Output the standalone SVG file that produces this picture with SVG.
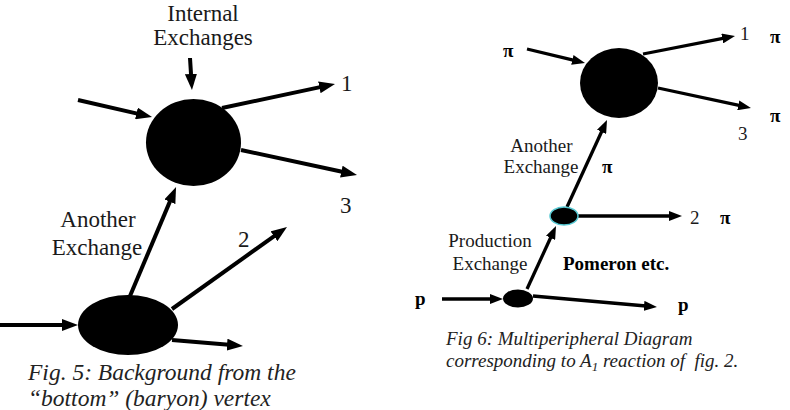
<svg xmlns="http://www.w3.org/2000/svg" width="790" height="410" viewBox="0 0 790 410">
<style>
.bg{fill:#fff}
.node{fill:#000}
.mid{fill:#000;stroke:#56c8d2;stroke-width:1.5}
.cl{stroke:#000;stroke-width:4;fill:none;marker-end:url(#ah)}
.cr{stroke:#000;stroke-width:3.3;fill:none;marker-end:url(#ahs)}
.t{fill:#1a1a1a}
.l{font-size:23px}
.s{font-size:19px}
.b{font-weight:bold;fill:#000}
.cap{font-style:italic;fill:#222}
</style>
<defs>
<marker id="ah" markerUnits="userSpaceOnUse" markerWidth="16" markerHeight="12" refX="2" refY="6" orient="auto">
<path d="M0,0 L16,6 L0,12 z" fill="#000"/>
</marker>
<marker id="ahs" markerUnits="userSpaceOnUse" markerWidth="13" markerHeight="10" refX="2" refY="5" orient="auto">
<path d="M0,0 L13,5 L0,10 z" fill="#000"/>
</marker>
</defs>
<rect class="bg" x="0" y="0" width="790" height="410"/>

<g id="connectors">
<line class="cl" x1="78" y1="100" x2="138.4" y2="113.9"/>
<line class="cl" x1="190" y1="58" x2="191.1" y2="76"/>
<line class="cl" x1="222" y1="108" x2="321.3" y2="86.9"/>
<line class="cl" x1="241" y1="150" x2="343.3" y2="172"/>
<line class="cl" x1="130" y1="296" x2="170.6" y2="199.9"/>
<line class="cl" x1="172" y1="309" x2="275.6" y2="235.1"/>
<line class="cl" x1="0" y1="325" x2="64" y2="325"/>
<line class="cl" x1="172" y1="340" x2="229" y2="344.8"/>
<line class="cr" x1="527" y1="49" x2="574.3" y2="60.4"/>
<line class="cr" x1="643" y1="54" x2="724.2" y2="38.1"/>
<line class="cr" x1="658" y1="88" x2="740.2" y2="105.7"/>
<line class="cr" x1="567" y1="207" x2="602.4" y2="130"/>
<line class="cr" x1="578" y1="216" x2="671" y2="216"/>
<line class="cr" x1="527" y1="289" x2="551.4" y2="236"/>
<line class="cr" x1="442" y1="299" x2="492" y2="299"/>
<line class="cr" x1="533" y1="296" x2="646" y2="306"/>
</g>

<g id="fig5-top-vertex"><ellipse class="node" cx="193.5" cy="142.5" rx="47.5" ry="43.5"/></g>
<g id="fig5-bottom-vertex"><ellipse class="node" cx="128" cy="325" rx="50" ry="30"/></g>
<g id="fig6-top-vertex"><ellipse class="node" cx="619" cy="83" rx="39" ry="35"/></g>
<g id="fig6-mid-vertex"><ellipse class="mid" cx="564" cy="216" rx="14" ry="9"/></g>
<g id="fig6-bottom-vertex"><ellipse class="node" cx="518" cy="298.5" rx="15" ry="9"/></g>

<g id="labels" font-family="'Liberation Serif', 'DejaVu Serif', serif">
<text class="t l" x="203" y="20.5" text-anchor="middle">Internal</text>
<text class="t l" x="203" y="45" text-anchor="middle">Exchanges</text>
<text class="t l" x="341" y="91">1</text>
<text class="t l" x="340" y="213">3</text>
<text class="t l" x="238" y="247">2</text>
<text class="t l" x="98" y="227" text-anchor="middle">Another</text>
<text class="t l" x="97" y="255" text-anchor="middle">Exchange</text>
<text class="t cap" x="28" y="380" font-size="23.5">Fig. 5: Background from the</text>
<text class="t cap" x="28" y="406" font-size="23.5">“bottom” (baryon) vertex</text>

<text class="t s b" x="503" y="57">π</text>
<text class="t s" x="740" y="40">1</text>
<text class="t s b" x="770" y="43">π</text>
<text class="t s b" x="770" y="122">π</text>
<text class="t s" x="738" y="140">3</text>
<text class="t s" x="541.5" y="152" text-anchor="middle">Another</text>
<text class="t s" x="541" y="173" text-anchor="middle">Exchange</text>
<text class="t s b" x="602" y="173">π</text>
<text class="t s" x="690" y="224">2</text>
<text class="t s b" x="720" y="224">π</text>
<text class="t s" x="490" y="247" text-anchor="middle">Production</text>
<text class="t s" x="490" y="270" text-anchor="middle">Exchange</text>
<text class="t s b" x="563" y="270">Pomeron etc.</text>
<text class="t s b" x="415" y="305">p</text>
<text class="t s b" x="678" y="311">p</text>
<text class="t s cap" x="446" y="345">Fig 6: Multiperipheral Diagram</text>
<text class="t s cap" x="446" y="367">corresponding to A<tspan dy="4" font-size="13">1</tspan><tspan dy="-4"> reaction of &#160;fig. 2.</tspan></text>
</g>
</svg>
